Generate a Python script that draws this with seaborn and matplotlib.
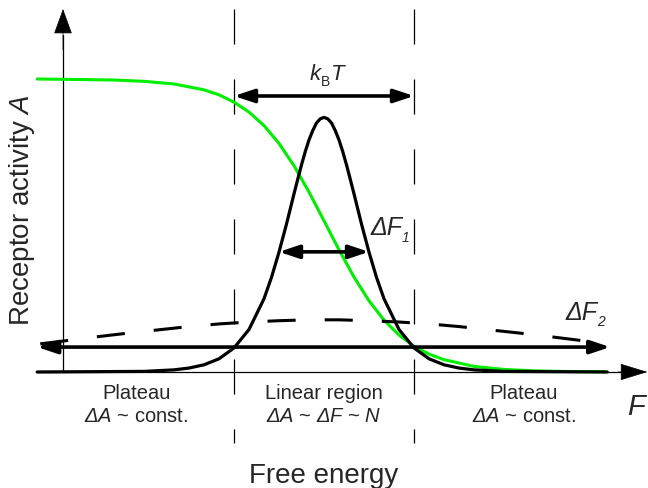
import numpy as np
import matplotlib
matplotlib.use("Agg")
import matplotlib.pyplot as plt
import seaborn as sns

sns.set_style("white")
plt.rcParams["font.family"] = ["Liberation Sans", "DejaVu Sans"]
plt.rcParams["mathtext.fontset"] = "custom"
plt.rcParams["mathtext.rm"] = "Liberation Sans:italic"
plt.rcParams["mathtext.it"] = "Liberation Sans:italic"
plt.rcParams["mathtext.sf"] = "Liberation Sans"

# ---- data (free energy F in units, receptor activity A) ----
green_F = [-4.78, -4.0, -3.5, -3.0, -2.5, -2.0, -1.75, -1.5, -1.25, -1.0, -0.75, -0.5,
           -0.25, 0.0, 0.25, 0.5, 0.75, 1.0, 1.25, 1.5, 1.75, 2.0, 2.5, 3.0, 3.5, 4.0, 4.68]
green_A = [1.0, 0.998, 0.9965, 0.992, 0.983, 0.963, 0.946, 0.921, 0.887, 0.841, 0.780, 0.704,
           0.614, 0.516, 0.417, 0.324, 0.243, 0.177, 0.126, 0.088, 0.061, 0.042, 0.019, 0.0087,
           0.0039, 0.0018, 0.0006]

peak_F = [-4.78, -3.0, -2.5, -2.25, -2.0, -1.75, -1.5, -1.25, -1.0, -0.875, -0.75, -0.625,
          -0.5, -0.4375, -0.375, -0.3125, -0.25, -0.1875, -0.125, -0.0625, 0.0,
          0.0625, 0.125, 0.1875, 0.25, 0.3125, 0.375, 0.4375, 0.5, 0.625, 0.75, 0.875,
          1.0, 1.25, 1.5, 1.75, 2.0, 2.25, 2.5, 3.0, 4.72]
peak_A = [0.0, 0.002, 0.0072, 0.0134, 0.0245, 0.045, 0.082, 0.145, 0.250, 0.323, 0.409, 0.505,
          0.608, 0.658, 0.707, 0.752, 0.792, 0.824, 0.850, 0.864, 0.869,
          0.864, 0.850, 0.824, 0.792, 0.752, 0.707, 0.658, 0.608, 0.505, 0.409, 0.323,
          0.250, 0.145, 0.082, 0.045, 0.0245, 0.0134, 0.0072, 0.002, 0.0]

broad_F = [-4.73, -4.25, -3.75, -3.25, -2.75, -2.25, -1.75, -1.25, -0.75, -0.25,
           0.25, 0.75, 1.25, 1.75, 2.25, 2.75, 3.25, 3.75, 4.38]
broad_A = [0.096, 0.108, 0.121, 0.133, 0.144, 0.155, 0.164, 0.1705, 0.175, 0.178,
           0.178, 0.175, 0.1705, 0.164, 0.155, 0.144, 0.133, 0.121, 0.105]

region_edges = [-1.5, 1.5]
region_centers = [-3.13, 0.0, 3.33]
region_titles = ["Plateau", "Linear region", "Plateau"]
region_laws = [r"$\Delta A$ ~ const.", r"$\Delta A$ ~ $\Delta F$ ~ $N$", r"$\Delta A$ ~ const."]

# ---- figure ----
fig = plt.figure(figsize=(6.48, 4.89), dpi=100)
ax = fig.add_axes([0, 0, 1, 1])
ax.set_xlim(-5.4, 5.4)
ax.set_ylim(-0.396, 1.273)
ax.axis("off")

# region dashed separators
for xe in region_edges:
    ln, = ax.plot([xe, xe], [1.239, -0.242], color="black", lw=0.9)
    ln.set_dashes((28, 28))

# axes with arrows
ax.plot([-4.35, -4.35], [0.0, 1.15], color="black", lw=0.9)
ax.annotate("", xy=(-4.35, 1.239), xytext=(-4.35, 1.10),
            arrowprops=dict(arrowstyle="-|>,head_length=1.65,head_width=0.6",
                            mutation_scale=10, color="black", lw=0.5,
                            shrinkA=0, shrinkB=0))
ax.plot([-4.78, 5.0], [0.0, 0.0], color="black", lw=0.9)
ax.annotate("", xy=(5.39, 0.0), xytext=(4.9, 0.0),
            arrowprops=dict(arrowstyle="-|>,head_length=1.8,head_width=0.55",
                            mutation_scale=10, color="black", lw=0.5,
                            shrinkA=0, shrinkB=0))

# curves
sns.lineplot(x=green_F, y=green_A, ax=ax, color="#00ee00", lw=2.2,
             sort=False, estimator=None)
sns.lineplot(x=broad_F, y=broad_A, ax=ax, color="black", lw=2.2,
             sort=False, estimator=None)
ax.lines[-1].set_dashes((9.2, 9.5))
sns.lineplot(x=peak_F, y=peak_A, ax=ax, color="black", lw=2.3,
             sort=False, estimator=None)

# arrows
arrow_kw = dict(arrowstyle="<|-|>,head_length=1.2,head_width=0.4",
                mutation_scale=10, color="black", lw=2.6, shrinkA=0, shrinkB=0)
ax.annotate("", xy=(-1.5, 0.942), xytext=(1.5, 0.942), arrowprops=arrow_kw)
ax.annotate("", xy=(-0.75, 0.41), xytext=(0.75, 0.41), arrowprops=arrow_kw)
ax.annotate("", xy=(-4.78, 0.085), xytext=(4.77, 0.085), arrowprops=arrow_kw)

# labels
ax.text(-0.233, 1.0, "k", ha="left", va="baseline", fontsize=16, fontstyle="italic")
ax.text(-0.06, 0.978, "B", ha="left", va="baseline", fontsize=10)
ax.text(0.117, 1.0, "T", ha="left", va="baseline", fontsize=16, fontstyle="italic")

ax.text(0.77, 0.471, "ΔF", ha="left", va="baseline", fontsize=18, fontstyle="italic")
ax.text(1.30, 0.447, "1", ha="left", va="baseline", fontsize=10, fontstyle="italic")
ax.text(4.02, 0.181, "ΔF", ha="left", va="baseline", fontsize=18, fontstyle="italic")
ax.text(4.55, 0.160, "2", ha="left", va="baseline", fontsize=10, fontstyle="italic")
ax.text(5.05, -0.143, "F", ha="left", va="baseline", fontsize=21, fontstyle="italic")

for xc, t1, t2 in zip(region_centers, region_titles, region_laws):
    ax.text(xc, -0.089, t1, ha="center", va="baseline", fontsize=14.5)
    ax.text(xc, -0.167, t2, ha="center", va="baseline", fontsize=14.5)

ax.text(0.0, -0.375, "Free energy", ha="center", va="baseline", fontsize=20)
ax.text(-5.03, 0.556, r"Receptor activity $A$", ha="center", va="center",
        rotation=90, fontsize=20)

fig.savefig("out.png", dpi=100)
